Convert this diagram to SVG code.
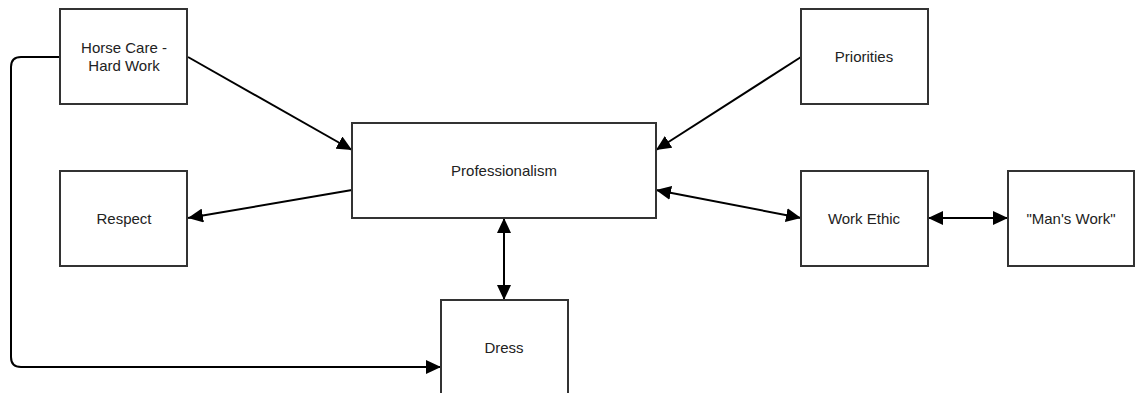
<svg xmlns="http://www.w3.org/2000/svg" width="1135" height="393" viewBox="0 0 1135 393">
<style>
.box{fill:#fff;stroke:#333;stroke-width:2}
.lbl{font-family:"Liberation Sans",Arial,sans-serif;font-size:15px;fill:#222;text-anchor:middle}
.edge{fill:none;stroke:#000;stroke-width:2}
</style>
<defs>
<marker id="ah" viewBox="0 0 15 14" refX="15" refY="7" markerWidth="15" markerHeight="14" markerUnits="userSpaceOnUse" orient="auto-start-reverse">
<path d="M0,0 L15,7 L0,14 Z" fill="#000"/>
</marker>
</defs>
<rect width="1135" height="393" fill="#fff"/>
<g id="connectors">
<path class="edge" d="M188,57 L352,150" marker-end="url(#ah)"/>
<path class="edge" d="M801,57 L656,150" marker-end="url(#ah)"/>
<path class="edge" d="M352,190 L188,218" marker-end="url(#ah)"/>
<path class="edge" d="M656,190 L801,218" marker-start="url(#ah)" marker-end="url(#ah)"/>
<path class="edge" d="M928,218 L1008,218" marker-start="url(#ah)" marker-end="url(#ah)"/>
<path class="edge" d="M504,218 L504,300" marker-start="url(#ah)" marker-end="url(#ah)"/>
<path class="edge" d="M60,57 L21,57 Q11,57 11,67 L11,357 Q11,367 21,367 L441,367" marker-end="url(#ah)"/>
</g>
<g id="horse-care">
<rect class="box" x="60" y="9" width="127" height="95"/>
<text class="lbl" x="124" y="53">Horse Care -</text>
<text class="lbl" x="124" y="71">Hard Work</text>
</g>
<g id="respect">
<rect class="box" x="60" y="171" width="127" height="95"/>
<text class="lbl" x="124" y="224">Respect</text>
</g>
<g id="professionalism">
<rect class="box" x="352" y="123" width="304" height="95"/>
<text class="lbl" x="504" y="176">Professionalism</text>
</g>
<g id="dress">
<rect class="box" x="441" y="300" width="127" height="95"/>
<text class="lbl" x="504" y="353">Dress</text>
</g>
<g id="priorities">
<rect class="box" x="801" y="9" width="127" height="95"/>
<text class="lbl" x="864" y="62">Priorities</text>
</g>
<g id="work-ethic">
<rect class="box" x="801" y="171" width="127" height="95"/>
<text class="lbl" x="864" y="224">Work Ethic</text>
</g>
<g id="mans-work">
<rect class="box" x="1008" y="171" width="126" height="95"/>
<text class="lbl" x="1071" y="224">"Man's Work"</text>
</g>
</svg>
